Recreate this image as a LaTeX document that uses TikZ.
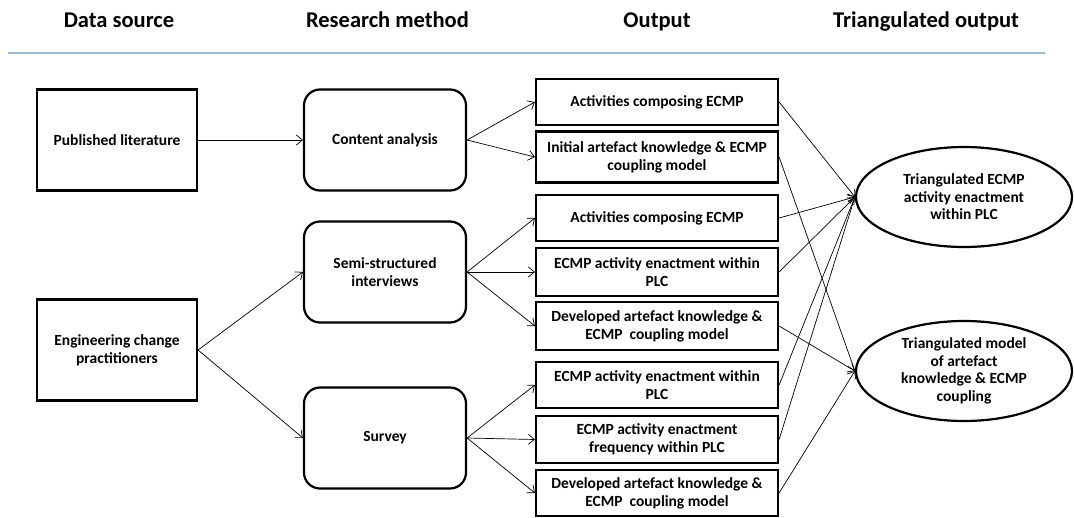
\documentclass[tikz,border=0pt]{standalone}
\usepackage{fontspec}
\setmainfont{Carlito}
\usetikzlibrary{shapes.geometric,arrows.meta}
\begin{document}
\begin{tikzpicture}[x=1pt,y=-1pt,
  every node/.style={font=\bfseries\fontsize{15.5}{18}\selectfont, align=center, inner sep=0pt},
  head/.style={font=\bfseries\fontsize{22.5}{26}\selectfont, anchor=base},
  srcbox/.style={draw, line width=2.2pt, minimum width=160pt, minimum height=101pt},
  methbox/.style={draw, line width=2.2pt, rounded corners=16pt, minimum width=162pt, minimum height=101pt},
  outbox/.style={draw, line width=2.2pt, minimum width=242pt, minimum height=46pt},
  triang/.style={draw, ellipse, line width=2.2pt, minimum width=216pt, minimum height=100pt, font=\bfseries\fontsize{15.5}{17.5}\selectfont},
  link/.style={-{Straight Barb[length=6pt,width=10pt]}, line width=0.7pt}
]
\useasboundingbox (0,0) rectangle (1074,517);

% column headings and rule
\node[head] (h1) at (119,27) {Data source};
\node[head] (h2) at (387.5,27) {Research method};
\node[head] (h3) at (657,27) {Output};
\node[head] (h4) at (926,27) {Triangulated output};
\coordinate (rl) at (8,52.7);
\coordinate (rr) at (1045,52.7);
\draw[line width=2.2pt, color={rgb,255:red,160;green,185;blue,215}] (rl) -- (rr);

% data sources
\node[srcbox] (lit) at (117,140) {Published literature};
\node[srcbox] (ecp) at (117,350) {Engineering change\\practitioners};

% research methods
\node[methbox] (ca) at (385,140) {Content analysis};
\node[methbox] (ssi) at (385,272) {Semi-structured\\interviews};
\node[methbox] (sur) at (385,438) {Survey};

% outputs
\node[outbox] (o1) at (657,102) {Activities composing ECMP};
\node[outbox, minimum height=51pt] (o2) at (657,157) {Initial artefact knowledge \& ECMP\\coupling model};
\node[outbox] (o3) at (657,218) {Activities composing ECMP};
\node[outbox, minimum height=48pt] (o4) at (657,272) {ECMP activity enactment within\\PLC};
\node[outbox, minimum height=48pt] (o5) at (657,326) {Developed artefact knowledge \&\\ECMP\ \ coupling model};
\node[outbox] (o6) at (657,385) {ECMP activity enactment within\\PLC};
\node[outbox, minimum height=47pt] (o7) at (657,439.5) {ECMP activity enactment\\frequency within PLC};
\node[outbox, minimum height=46pt] (o8) at (657,493) {Developed artefact knowledge \&\\ECMP\ \ coupling model};

% triangulated outputs
\node[triang] (t1) at (964,197) {Triangulated ECMP\\activity enactment\\within PLC};
\node[triang] (t2) at (964,371) {Triangulated model\\of artefact\\knowledge \& ECMP\\coupling};

% connectors
\draw[link] (lit.east) -- (ca.west);
\draw[link] (ecp.east) -- (ssi.west);
\draw[link] (ecp.east) -- (sur.west);
\draw[link] (ca.east) -- (o1.west);
\draw[link] (ca.east) -- (o2.west);
\draw[link] (ssi.east) -- (o3.west);
\draw[link] (ssi.east) -- (o4.west);
\draw[link] (ssi.east) -- (o5.west);
\draw[link] (sur.east) -- (o6.west);
\draw[link] (sur.east) -- (o7.west);
\draw[link] (sur.east) -- (o8.west);
\draw[link] (o1.east) -- (t1.west);
\draw[link] (o3.east) -- (t1.west);
\draw[link] (o4.east) -- (t1.west);
\draw[link] (o6.east) -- (t1.west);
\draw[link] (o7.east) -- (t1.west);
\draw[link] (o2.east) -- (t2.west);
\draw[link] (o5.east) -- (t2.west);
\draw[link] (o8.east) -- (t2.west);
\end{tikzpicture}
\end{document}
